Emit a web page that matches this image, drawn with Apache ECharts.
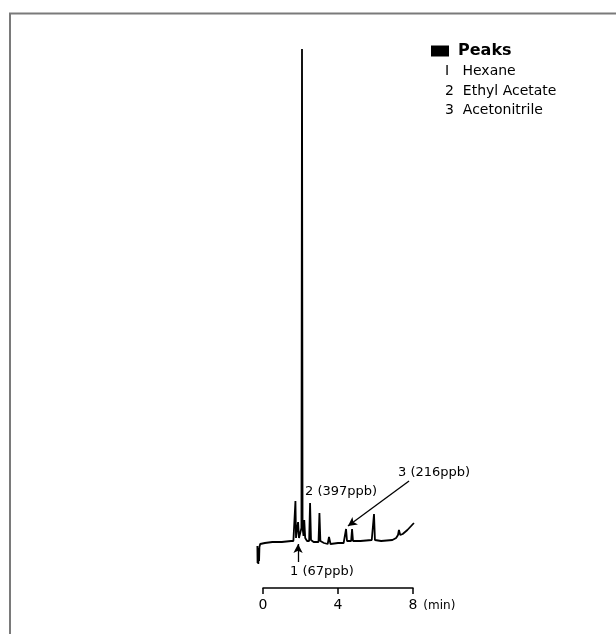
<!DOCTYPE html>
<head>
    <meta charset="utf-8">
    <title>Chromatogram</title>
</head>
<body style="margin:0">
    <script type="text/javascript" src="https://cdn.jsdelivr.net/npm/echarts@6/dist/echarts.min.js"></script>

    <div id="main" style="width: 616px;height:634px;"></div>

    <script type="text/javascript">
        // retention time (min) and detector signal
        var times  = [-0.30, -0.29, -0.27, -0.25, -0.23, -0.21, -0.19, -0.15, -0.08, 0.1, 0.5, 1.0, 1.5, 1.62,
                      1.70, 1.73, 1.76, 1.82, 1.87, 1.92, 1.98,
                      2.05, 2.08, 2.11, 2.16, 2.20, 2.25, 2.35,
                      2.46, 2.51, 2.56, 2.70,
                      2.96, 3.01, 3.06, 3.25,
                      3.45, 3.52, 3.60, 4.00, 4.30,
                      4.38, 4.43, 4.48, 4.57,
                      4.70, 4.75, 4.80, 5.20, 5.80,
                      5.87, 5.92, 5.97, 6.30, 6.90,
                      7.10, 7.20, 7.25, 7.32, 7.45, 7.70, 7.90, 8.05];
        var signal = [42, 25, 40, 24, 38, 27, 41, 44, 45, 45, 46, 46, 47, 47,
                      48, 87, 50, 52, 66, 50, 52,
                      60, 539, 60, 52, 68, 50, 47,
                      47, 85, 48, 46,
                      46, 75, 47, 45,
                      44, 51, 44, 45, 45,
                      46, 59, 47, 47,
                      47, 59, 47, 47, 48,
                      48, 74, 48, 47, 48,
                      50, 53, 58, 53, 54, 58, 62, 65];

        var xTicks = [0, 4, 8];
        var peakNames = ['I   Hexane', '2  Ethyl Acetate', '3  Acetonitrile'];

        // annotation labels: [time, signal, text]
        var notes = [
            [2.24, 96, '2 (397ppb)'],
            [7.20, 115, '3 (216ppb)'],
            [1.44, 16, '1 (67ppb)']
        ];
        // arrows: [fromTime, fromSignal, toTime, toSignal]
        var arrows = [
            [1.87, 26, 1.87, 44],
            [7.79, 107, 4.53, 62]
        ];

        var data = [];
        for (var i = 0; i < times.length; i++) {
            data.push([times[i], signal[i]]);
        }

        // 18.75 px per minute; trace grid is padded half a minute each side
        var pxPerMin = 18.75;

        var myChart = echarts.init(document.getElementById('main'));
        myChart.setOption({
            animation: false,
            textStyle: { fontFamily: 'DejaVu Sans', color: '#000' },
            title: {
                text: peakNames.join('\n'),
                left: 440,
                top: 57,
                textStyle: { fontSize: 14, fontWeight: 'normal', color: '#000', lineHeight: 19.5 }
            },
            legend: {
                data: ['Peaks'],
                left: 426,
                top: 38,
                icon: 'rect',
                itemWidth: 18,
                itemHeight: 11,
                itemGap: 6,
                textStyle: { fontSize: 16, fontWeight: 'bold', color: '#000', padding: [0, 0, 0, 4] }
            },
            grid: [
                { left: 263, width: 8 * pxPerMin, top: 48, height: 540 },
                { left: 263 - 0.5 * pxPerMin, width: 9 * pxPerMin, top: 48, height: 540 }
            ],
            xAxis: [{
                type: 'value',
                gridIndex: 0,
                min: 0,
                max: 8,
                interval: 4,
                name: '(min)',
                nameLocation: 'end',
                nameGap: 7,
                nameTextStyle: { fontSize: 12, color: '#000', verticalAlign: 'top', padding: [12, 0, 0, 0] },
                axisLine: { lineStyle: { color: '#000', width: 1.5 } },
                axisTick: { length: 6, lineStyle: { color: '#000', width: 1.5 } },
                axisLabel: { fontSize: 14, color: '#000', margin: 10,
                    customValues: xTicks },
                splitLine: { show: false }
            }, {
                type: 'value',
                gridIndex: 1,
                min: -0.5,
                max: 8.5,
                show: false
            }],
            yAxis: [
                { type: 'value', gridIndex: 0, min: 0, max: 540, show: false },
                { type: 'value', gridIndex: 1, min: 0, max: 540, show: false }
            ],
            graphic: [{
                type: 'polyline',
                shape: { points: [[10, 634], [10, 13.5], [616, 13.5]] },
                style: { stroke: '#7a7a7a', lineWidth: 2, fill: null }
            }],
            series: [{
                name: 'Peaks',
                type: 'line',
                xAxisIndex: 1,
                yAxisIndex: 1,
                data: data,
                symbol: 'none',
                itemStyle: { color: '#000' },
                lineStyle: { color: '#000', width: 1.8 },
                markLine: {
                    silent: true,
                    symbol: ['none', 'arrow'],
                    symbolSize: [7, 9],
                    label: { show: false },
                    lineStyle: { color: '#000', width: 1.3, type: 'solid' },
                    data: arrows.map(function (a) {
                        return [{ coord: [a[0], a[1]] }, { coord: [a[2], a[3]] }];
                    })
                },
                markPoint: {
                    silent: true,
                    symbol: 'circle',
                    symbolSize: 0,
                    data: notes.map(function (n) {
                        return {
                            coord: [n[0], n[1]],
                            label: { show: true, position: 'right', distance: 0,
                                formatter: n[2], fontSize: 13, color: '#000' }
                        };
                    })
                }
            }]
        });
    </script>
</body>
